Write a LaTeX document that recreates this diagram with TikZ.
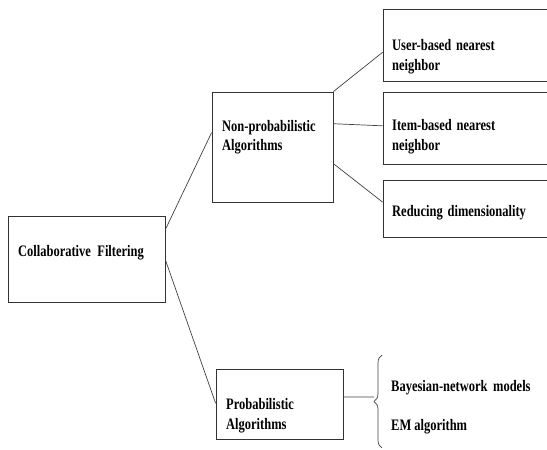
\documentclass[tikz,border=0pt]{standalone}
\usepackage{fontspec}
\setmainfont{Liberation Serif}[FakeStretch=0.78]
\usetikzlibrary{decorations.pathreplacing,calc}
\begin{document}
\begin{tikzpicture}[x=1pt,y=-1pt,
  box/.style={draw=black!80, line width=0.8pt, rectangle, inner sep=0pt},
  txt/.style={anchor=west, align=left, inner sep=0pt, font=\fontsize{16}{19.5}\selectfont\bfseries, text=black},
  conn/.style={draw=black!75, line width=0.7pt}]
\useasboundingbox (0,0) rectangle (547,450);
\clip (0,0) rectangle (547,450);
% boxes
\node[box, minimum width=157, minimum height=86] (cf) at (86.5,259) {};
\node[box, minimum width=121, minimum height=110] (np) at (272.5,147) {};
\node[box, minimum width=127, minimum height=70] (prob) at (279.5,404) {};
\node[box, minimum width=177, minimum height=72] (user) at (471.5,45) {};
\node[box, minimum width=177, minimum height=72] (item) at (471.5,128) {};
\node[box, minimum width=177, minimum height=57] (red) at (471.5,208.5) {};
% texts
\node[txt] (cft) at (18,253) {Collaborative\hspace{0.4em}Filtering};
\node[txt] (npt) at (222,137) {Non-probabilistic\\Algorithms};
\node[txt] (probt) at (226,415.5) {Probabilistic\\Algorithms};
\node[txt] (usert) at (392,56.5) {User-based\hspace{0.3em}nearest\\neighbor};
\node[txt] (itemt) at (392,136.5) {Item-based\hspace{0.3em}nearest\\neighbor};
\node[txt] (redt) at (392,213) {Reducing\hspace{0.3em}dimensionality};
\node[txt] (bayt) at (391,388) {Bayesian-network\hspace{0.35em}models};
\node[txt] (emt) at (391,427) {EM algorithm};
% brace
\draw[conn, decorate, decoration={brace, amplitude=8pt}] (382,448) -- (382,355);
\coordinate (bt) at (374,397);
% connectors
\draw[conn] ($(cf.north east)!0.16!(cf.south east)$) -- ($(np.north west)!0.37!(np.south west)$);
\draw[conn] ($(cf.north east)!0.51!(cf.south east)$) -- ($(prob.north west)!0.49!(prob.south west)$);
\draw[conn] (np.north east) -- ($(user.north west)!0.6!(user.south west)$);
\draw[conn] ($(np.north east)!0.29!(np.south east)$) -- ($(item.north west)!0.47!(item.south west)$);
\draw[conn] ($(np.north east)!0.65!(np.south east)$) -- ($(red.north west)!0.39!(red.south west)$);
\draw[conn] ($(prob.north east)!0.4!(prob.south east)$) -- (bt);
\end{tikzpicture}
\end{document}
